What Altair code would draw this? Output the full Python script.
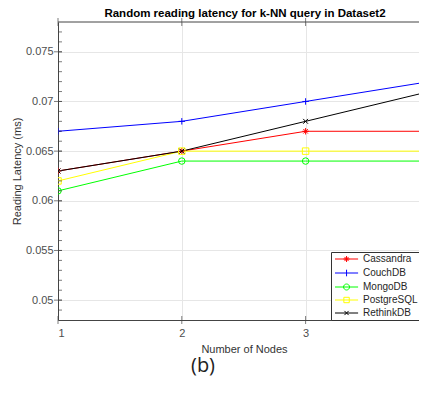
import altair as alt
import pandas as pd

# ---- data ----
nodes = [1, 2, 3, 4]
series_names = ["Cassandra", "CouchDB", "MongoDB", "PostgreSQL", "RethinkDB"]
cassandra = [0.063, 0.065, 0.067, 0.067]
couchdb = [0.067, 0.068, 0.070, 0.072]
mongodb = [0.061, 0.064, 0.064, 0.064]
postgresql = [0.062, 0.065, 0.065, 0.065]
rethinkdb = [0.063, 0.065, 0.068, 0.071]
series_values = [cassandra, couchdb, mongodb, postgresql, rethinkdb]
colors = ["#ff0000", "#0000ff", "#00ff00", "#ffff00", "#000000"]
y_ticks = [0.05, 0.055, 0.06, 0.065, 0.07, 0.075]
y_minor_ticks = [0.049, 0.05, 0.051, 0.052, 0.053, 0.054, 0.055, 0.056, 0.057, 0.058,
                 0.059, 0.06, 0.061, 0.062, 0.063, 0.064, 0.065, 0.066, 0.067, 0.068,
                 0.069, 0.07, 0.071, 0.072, 0.073, 0.074, 0.075, 0.076, 0.077]
x_ticks = [1, 2, 3]
title_text = ["Random reading latency for k-NN query in Dataset2"]
caption = ["(b)"]

rows = []
for name, vals in zip(series_names, series_values):
    for n, v in zip(nodes, vals):
        rows.append({"nodes": n, "latency": v, "series": name})
df = pd.DataFrame(rows)

# marker shapes in the plot (unit coordinates)
plot_shapes = [
    "M-1,0L1,0M0,-1L0,1M-0.7,-0.7L0.7,0.7M-0.7,0.7L0.7,-0.7",
    "M-1,0L1,0M0,-1L0,1",
    "circle",
    "square",
    "M-0.75,-0.75L0.75,0.75M-0.75,0.75L0.75,-0.75",
]

# legend symbols: a short line with the marker on it
cx = 2.85
line = "M-1,0L6.7,0"
legend_shapes = [
    line + f"M{cx-1},0L{cx+1},0M{cx},-1L{cx},1M{cx-0.7},-0.7L{cx+0.7},0.7M{cx-0.7},0.7L{cx+0.7},-0.7",
    line + f"M{cx},-1.1L{cx},1.1",
    line + f"M{cx-1},0A1,1 0 1,0 {cx+1},0A1,1 0 1,0 {cx-1},0",
    line + f"M{cx-0.9},-0.9L{cx+0.9},-0.9L{cx+0.9},0.9L{cx-0.9},0.9Z",
    line + f"M{cx-0.7},-0.7L{cx+0.7},0.7M{cx-0.7},0.7L{cx+0.7},-0.7",
]

FONT = "Liberation Sans"
W, H = 361, 298

x_enc = alt.X(
    "nodes:Q",
    scale=alt.Scale(domain=[1, 3.916], nice=False, zero=False),
    axis=alt.Axis(
        values=x_ticks, format="d", title="Number of Nodes", grid=True,
        ticks=False, domain=True, labelPadding=7, titlePadding=5, titleX=186,
    ),
)
y_enc = alt.Y(
    "latency:Q",
    scale=alt.Scale(domain=[0.048, 0.078], nice=False, zero=False),
    axis=alt.Axis(
        values=y_ticks, format=".3~f", title="Reading Latency (ms)", grid=True,
        ticks=False, domain=True, labelPadding=5, titlePadding=3,
    ),
)

color_nolegend = alt.Color(
    "series:N", scale=alt.Scale(domain=series_names, range=colors), legend=None
)

lines = alt.Chart(df).mark_line(strokeWidth=1, clip=True).encode(
    x=x_enc, y=y_enc, color=color_nolegend, detail="series:N"
)

points = alt.Chart(df).mark_point(filled=False, size=42, strokeWidth=1, opacity=1, clip=True).encode(
    x=x_enc, y=y_enc, color=color_nolegend,
    shape=alt.Shape("series:N", scale=alt.Scale(domain=series_names, range=plot_shapes), legend=None),
)

legend_layer = alt.Chart(df).transform_filter("datum.nodes > 100").mark_point(
    filled=False, size=36, strokeWidth=1, opacity=1, clip=True
).encode(
    x=x_enc, y=y_enc,
    color=alt.Color("series:N", scale=alt.Scale(domain=series_names, range=colors), title=None,
                    legend=alt.Legend(orient="none", legendX=273, legendY=230)),
    shape=alt.Shape("series:N", scale=alt.Scale(domain=series_names, range=legend_shapes), title=None,
                    legend=alt.Legend(orient="none", legendX=273, legendY=230)),
)

# inward tick marks (MATLAB style)
y_minor = alt.Chart(pd.DataFrame({"latency": y_minor_ticks})).mark_tick(
    color="#444444", thickness=1, size=4, orient="horizontal"
).encode(y=y_enc, x=alt.value(2))
y_major = alt.Chart(pd.DataFrame({"latency": y_ticks})).mark_tick(
    color="#444444", thickness=1, size=8, orient="horizontal"
).encode(y=y_enc, x=alt.value(0))
x_bottom = alt.Chart(pd.DataFrame({"nodes": x_ticks})).mark_tick(
    color="#444444", thickness=1, size=8, orient="vertical"
).encode(x=x_enc, y=alt.value(H))
x_top = alt.Chart(pd.DataFrame({"nodes": x_ticks})).mark_tick(
    color="#444444", thickness=1, size=8, orient="vertical"
).encode(x=x_enc, y=alt.value(0))

# top border of the axes box (the right border lies outside the cropped picture)
top_border = alt.Chart(pd.DataFrame({"t": [0]})).mark_rule(color="#444444", strokeWidth=1).encode(
    x=alt.value(0), x2=alt.value(W), y=alt.value(0)
)

ttl = alt.Chart(pd.DataFrame({"t": title_text})).mark_text(
    font=FONT, fontSize=11.5, fontWeight="bold", color="#000000", baseline="alphabetic", align="center"
).encode(text="t:N", x=alt.value(187), y=alt.value(-5.5))

cap = alt.Chart(pd.DataFrame({"t": caption})).mark_text(
    font="Open Sans", fontSize=20, color="#222222", baseline="middle", align="center"
).encode(text="t:N", x=alt.value(145), y=alt.value(344))

chart = alt.layer(
    lines, points, legend_layer, y_minor, y_major, x_bottom, x_top, top_border, ttl, cap
).resolve_scale(
    color="independent", shape="independent"
).properties(
    width=W, height=H,
    autosize=alt.AutoSizeParams(type="none"),
    padding={"left": 50, "top": 14, "right": 0, "bottom": 58},
).configure_view(
    stroke=None
).configure_axis(
    labelFont=FONT, titleFont=FONT, labelFontSize=11, titleFontSize=11,
    labelColor="#4d4d4d", titleColor="#333333", titleFontWeight="normal",
    gridColor="#e6e6e6", gridWidth=1, domainColor="#444444", domainWidth=1,
).configure_legend(
    padding=2, strokeColor="#333333", fillColor="white", cornerRadius=0,
    labelFont=FONT, labelFontSize=10, labelColor="#262626", labelOffset=20,
    rowPadding=3, symbolStrokeWidth=1, symbolSize=36,
)

chart.save("out.html", embed_options={"renderer": "svg", "actions": False})
